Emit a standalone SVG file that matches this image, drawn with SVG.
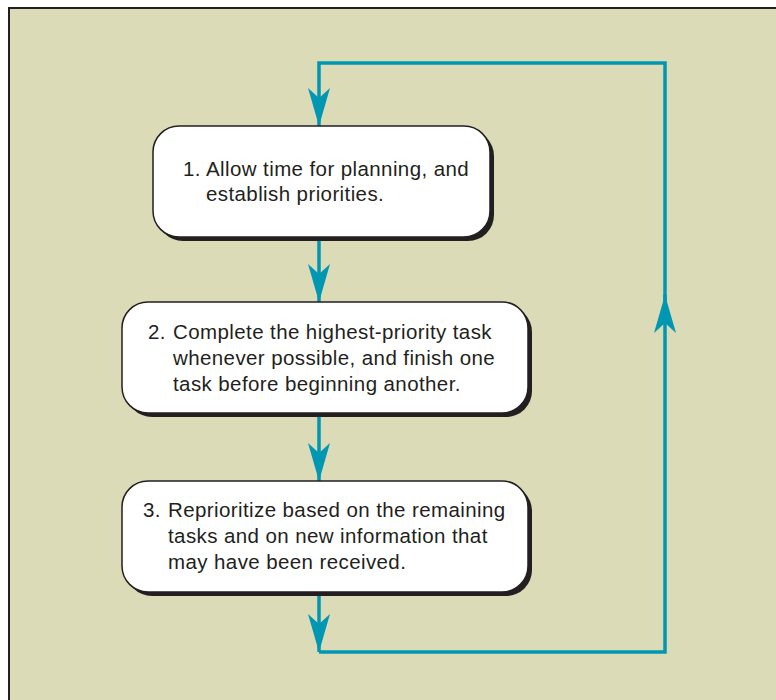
<svg xmlns="http://www.w3.org/2000/svg" width="776" height="700" viewBox="0 0 776 700">
<defs>
<style>
.bg{fill:#dcdbb8;stroke:#231f20;stroke-width:2}
.shadow{fill:#231f20}
.box{fill:#ffffff;stroke:#231f20;stroke-width:1.5}
.lbl{font-family:"Liberation Sans",Arial,sans-serif;font-size:20.5px;letter-spacing:0.4px;fill:#231f20}
.con{fill:none;stroke:#0097b2;stroke-width:3.5;stroke-linejoin:miter;stroke-linecap:butt}
</style>
<marker id="ah" markerUnits="userSpaceOnUse" markerWidth="40" markerHeight="24" viewBox="-39 -12 40 24" refX="0" refY="0" orient="auto">
<path d="M0 0 L-38 -11 L-28 0 L-38 11 Z" fill="#0097b2"/>
</marker>
</defs>
<rect x="0" y="0" width="776" height="700" fill="#ffffff"/>
<rect class="bg" x="9" y="8" width="790" height="720"/>
<g id="connectors">
<path class="con" d="M319 237 V302" marker-end="url(#ah)"/>
<path class="con" d="M319 413 V481" marker-end="url(#ah)"/>
<path class="con" d="M319 592 V652" marker-end="url(#ah)"/>
<path class="con" d="M319 652 H665 V295" marker-end="url(#ah)"/>
<path class="con" d="M665 300 V63 H319 V126" marker-end="url(#ah)"/>
</g>
<g id="node1">
<rect class="shadow" x="157" y="130" width="337" height="111" rx="26"/>
<rect class="box" x="153" y="126" width="337" height="111" rx="26"/>
<text class="lbl" y="176"><tspan x="183">1.</tspan><tspan x="206">Allow time for planning, and</tspan></text>
<text class="lbl" x="206" y="201">establish priorities.</text>
</g>
<g id="node2">
<rect class="shadow" x="126" y="306" width="406" height="111" rx="26"/>
<rect class="box" x="122" y="302" width="406" height="111" rx="26"/>
<text class="lbl" y="339"><tspan x="148">2.</tspan><tspan x="173">Complete the highest-priority task</tspan></text>
<text class="lbl" x="173" y="365">whenever possible, and finish one</text>
<text class="lbl" x="173" y="391">task before beginning another.</text>
</g>
<g id="node3">
<rect class="shadow" x="126" y="485" width="406" height="111" rx="26"/>
<rect class="box" x="122" y="481" width="406" height="111" rx="26"/>
<text class="lbl" y="517"><tspan x="143">3.</tspan><tspan x="168">Reprioritize based on the remaining</tspan></text>
<text class="lbl" x="168" y="543">tasks and on new information that</text>
<text class="lbl" x="168" y="569">may have been received.</text>
</g>
</svg>
